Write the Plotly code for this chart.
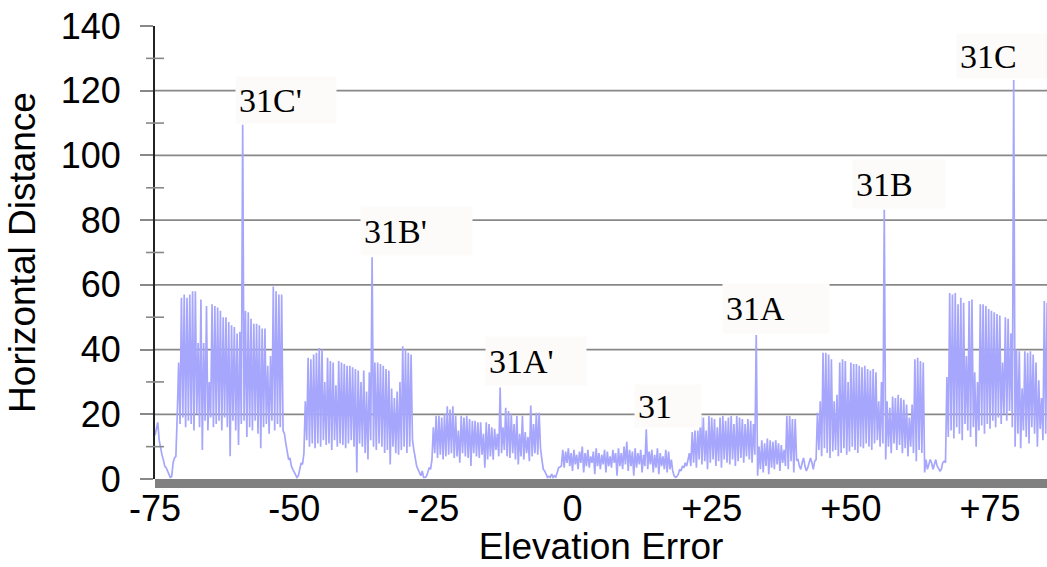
import numpy as np
import plotly.graph_objects as go

# ---------------- data ----------------
X_START = -75.0          # elevation error of first sample
X_STEP = 0.25            # sample spacing along the elevation-error axis

# horizontal distance, in sample order
lead_in = [13.5, 16, 17.5, 12, 9, 7.5, 6, 4, 3.5, 2.5, 1.5, 0.5, 0.8, 5, 6.5, 7]

block_31c_prime = [20, 36, 17, 56, 19, 57, 16, 56, 18, 57, 17, 58, 15, 58, 20, 42, 16, 55.5, 9, 42,
                   18, 53.5, 15, 30, 19, 54, 16, 53.5, 17, 53, 18, 52, 15, 50, 19, 50, 16, 48.5, 7, 47.5,
                   18, 47, 15, 45, 10.5, 45.5, 17, 109.5, 18, 52, 13, 51.5, 16, 49.5, 15, 48, 18, 48, 14, 47.5,
                   9.5, 46.5, 16, 46.5, 17, 35, 14, 38, 18, 59.5, 15, 58, 17, 57, 16, 57, 15]
gap_1 = [14, 11, 8, 6, 6.5, 4, 3, 2, 1, 0.5, 1, 3, 5, 4.5, 8]

block_31b_prime = [24, 12, 37.5, 10, 37, 11, 38.5, 9.5, 39, 11, 40.5, 10, 40, 12, 30, 10.5, 37.5, 11, 36.5, 9,
                   36, 12, 29, 10, 36.5, 11, 36, 10.5, 35.5, 9.5, 35, 11, 35, 12, 34.5, 10, 34, 2, 33.5, 11,
                   30, 10, 33.5, 8, 27, 6, 33, 12, 68.5, 10, 36, 9, 36, 11, 35.5, 10, 35, 8, 34, 9,
                   33.5, 4.5, 28, 10, 25, 8, 27, 7.5, 30, 9, 41, 10, 40, 8, 39, 10, 38.5, 12]
gap_2 = [9, 6, 4, 3, 2, 1, 2.5, 0.5, 0.5, 0.8, 2, 3.5, 3]

block_31a_prime = [6, 16, 8, 19.5, 6.5, 19.5, 7.5, 19, 6, 20, 7, 22.5, 7.5, 21.5, 8, 22.5, 6.5, 19.5, 7, 15,
                   5, 19.5, 8, 19, 7, 19.5, 6.5, 18.5, 4, 18, 8, 18, 7, 17.5, 6.5, 17.5, 7.5, 14, 3.5, 17.5,
                   6, 17, 7, 16, 6, 15.5, 9, 14, 7, 28.3, 8, 16, 9, 22, 7, 21, 6.5, 20, 8, 17,
                   6, 19.5, 4.5, 14, 7, 19.5, 6, 14.5, 8, 13, 5.5, 22.7, 7, 17, 8, 20.5, 7.5, 20.5, 9.5]
gap_3 = [6, 3, 2.5, 1.5, 0.5, 0.8, 0.5, 1.5, 0.5, 1, 0.6, 2, 3.5, 3.7]

block_31 = [4, 9, 3.5, 8.5, 5, 9.5, 4, 8, 2.5, 9, 4.5, 7.5, 3, 8.5, 5, 10, 2, 8, 4, 9,
            3.5, 7, 5, 8.5, 1.5, 9.5, 4, 8, 3, 7.5, 4.5, 9, 2, 8.5, 4, 7, 3.5, 9, 5, 8,
            1, 9.5, 4, 8, 3, 10, 4.5, 11.5, 2.5, 9, 4, 8.5, 1, 9.5, 3.5, 8, 4.5, 9, 2, 7.5,
            4, 15.4, 3, 8.5, 4.5, 9, 2, 7.5, 3.5, 9.5, 1.5, 8, 4, 7, 3, 9, 2, 8.5, 3, 6, 2.5]
gap_4 = [1, 0.5, 0.8, 1.5, 3, 2.5, 4, 3.5, 5, 4, 6]

block_31a = [8, 4, 14.5, 5, 15, 3.5, 15, 6, 19.5, 4.5, 19, 5.5, 15, 3, 19.5, 5, 19, 6, 18.5, 4,
             16, 5.5, 19, 3.5, 19.5, 6, 18, 5, 19, 4.5, 19.5, 6, 17, 4, 19.5, 5.5, 19, 6.5, 18.5, 5,
             17, 7, 18.5, 6, 18, 5, 17, 7.5, 44.5, 1, 10, 3, 12, 2, 11, 4, 12.5, 1.5, 12, 3.5,
             11.5, 3, 12, 4.5, 11, 2.5, 10.5, 5, 9, 4, 19.5, 3, 19.5, 5.5, 18.5, 2, 18.5, 5.7]
gap_5 = [6, 4, 3, 5, 6.5, 4, 2.5, 3.5, 5.5, 6.5, 5, 3, 5.5, 6]

block_31b = [20.5, 9, 24, 7, 39, 9.5, 39, 8, 38.5, 6.5, 37, 8.5, 24, 9, 26, 7, 36, 8, 37, 9.5,
             36.5, 7.5, 30, 8.5, 36, 10, 35.5, 9, 35.5, 8, 35, 10, 34.5, 9.5, 35, 11, 34, 10, 33.5, 9,
             34, 11, 33, 12, 24, 10, 30, 11, 83.2, 6, 24, 10, 22, 8, 25.5, 11, 25, 9, 26, 10.5,
             25, 8, 24.5, 9.5, 23, 7, 19, 10, 23, 8, 37, 5.5, 37.5, 9, 36.5, 8, 36, 2]
gap_6 = [6, 3, 4.5, 6, 5, 3, 4.5, 6, 4, 3, 2.5, 3, 5, 5.5]

block_31c = [5, 31.5, 13, 57.5, 15, 57, 12.5, 57.5, 16, 54, 14, 56, 12, 54.5, 17, 38, 15, 55, 13, 55.5,
             16, 33, 10, 30, 15, 54, 16.5, 54, 14, 53.5, 17, 52.5, 15.5, 52, 18, 51.5, 16, 51, 19, 50.5,
             17, 36, 20, 50, 18, 49.5, 21, 45, 16, 123.3, 10, 40, 14, 39.5, 9.5, 28, 15, 39.5, 13, 39,
             11, 39.5, 16, 38.5, 14, 36, 10, 30.5, 15.5, 25, 12, 55, 14, 54.5]

horizontal_distance = (lead_in + block_31c_prime + gap_1 + block_31b_prime + gap_2 + block_31a_prime
                       + gap_3 + block_31 + gap_4 + block_31a + gap_5 + block_31b + gap_6 + block_31c)
elevation_error = X_START + X_STEP * np.arange(len(horizontal_distance))

X_TICK_VALS = [-75, -50, -25, 0, 25, 50, 75]
X_TICK_TEXT = ["-75", "-50", "-25", "0", "+25", "+50", "+75"]
Y_TICK_VALS = [0, 20, 40, 60, 80, 100, 120, 140]
Y_MINOR_VALS = [10, 30, 50, 70, 90, 110, 130]

LABEL_TEXT = ["31C'", "31B'", "31A'", "31", "31A", "31B", "31C"]
LABEL_X = [-59.25, -36.0, -13.0, 13.25, 33.0, 56.0, 79.25]
LABEL_Y = [109.5, 68.5, 28.3, 15.4, 44.5, 83.2, 123.3]

# ---------------- styling ----------------
W, H = 1047, 567
M_L, M_R, M_T, M_B = 155, 0, 26, 88
PLOT_W = W - M_L - M_R
PLOT_H = H - M_T - M_B
PX_PER_UNIT = 5.567
X_RANGE = [-75, -75 + PLOT_W / PX_PER_UNIT]

GRID = "#888888"
LINE = "#a6a6fc"
BOX = "#fcfbf9"
# label box: (left offset from spike in px, box width, box height)
LABEL_BOX = [(-8, 100, 46), (-12, 111, 48), (-15, 100, 48), (-12, 66, 42),
             (-34, 106, 49), (-32, 92, 48), (-58, 92, 44)]
PAD = 3

fig = go.Figure()
fig.add_trace(go.Scatter(x=elevation_error, y=horizontal_distance, mode="lines",
                         line=dict(color=LINE, width=1.7), hoverinfo="skip", showlegend=False))

shapes = []
for v in Y_TICK_VALS[1:-1]:
    shapes.append(dict(type="line", xref="paper", yref="y", x0=0, x1=1, y0=v, y1=v,
                       line=dict(color=GRID, width=1.8), layer="below"))
for v in Y_MINOR_VALS:
    shapes.append(dict(type="line", xref="paper", yref="y", x0=-9 / PLOT_W, x1=9 / PLOT_W, y0=v, y1=v,
                       line=dict(color=GRID, width=1.6), layer="above"))
shapes.append(dict(type="rect", xref="paper", yref="paper", x0=0, x1=1, y0=-9 / PLOT_H, y1=0,
                   fillcolor="#808080", line=dict(width=0), layer="above"))

annotations = []
for t, lx, ly, (dx, bw, bh) in zip(LABEL_TEXT, LABEL_X, LABEL_Y, LABEL_BOX):
    annotations.append(dict(text=t, x=lx, y=ly, xref="x", yref="y", showarrow=False,
                            xanchor="left", yanchor="bottom", xshift=dx, yshift=1,
                            width=bw - 2 * PAD, height=bh - 2 * PAD, borderpad=PAD,
                            bgcolor=BOX, align="left", valign="middle",
                            font=dict(family="Liberation Serif", size=34, color="black")))

fig.update_layout(
    width=W, height=H, margin=dict(l=M_L, r=M_R, t=M_T, b=M_B, pad=0),
    paper_bgcolor="white", plot_bgcolor="white",
    shapes=shapes, annotations=annotations,
    xaxis=dict(range=X_RANGE, tickvals=X_TICK_VALS, ticktext=X_TICK_TEXT, showgrid=False,
               zeroline=False, showline=False, ticks="", ticklabelstandoff=5,
               tickfont=dict(family="Liberation Sans", size=36, color="black"),
               title=dict(text="Elevation Error", standoff=6,
                          font=dict(family="Liberation Sans", size=37, color="black"))),
    yaxis=dict(range=[0, 140], tickvals=Y_TICK_VALS, showgrid=False, zeroline=False,
               showline=True, linecolor="#222222", linewidth=2,
               ticks="outside", ticklen=13, tickwidth=1.6, tickcolor=GRID, ticklabelstandoff=12,
               tickfont=dict(family="Liberation Sans", size=36, color="black"),
               title=dict(text="Horizontal Distance", standoff=14,
                          font=dict(family="Liberation Sans", size=37, color="black"))),
)

fig.write_html("out.html")
